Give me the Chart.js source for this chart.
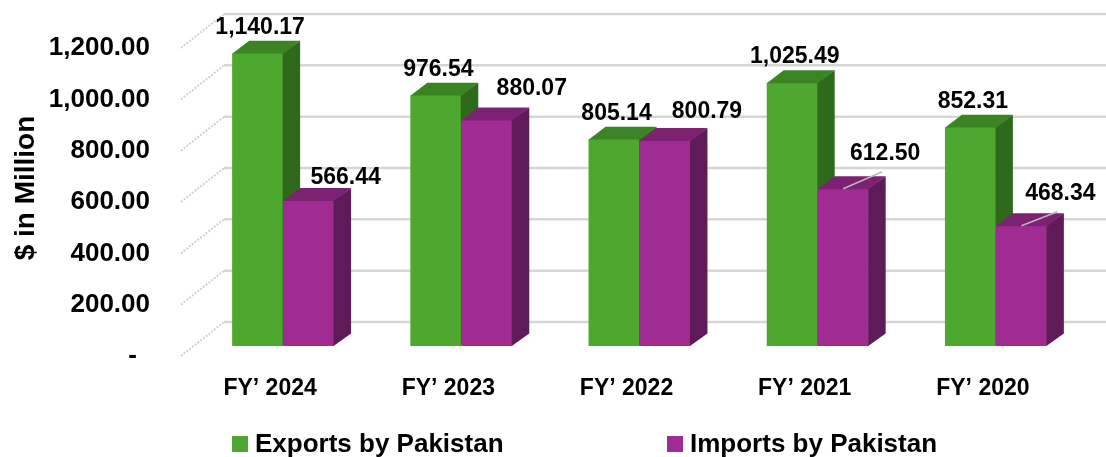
<!DOCTYPE html>
<html>
<head>
<meta charset="utf-8">
<script src="https://cdn.jsdelivr.net/npm/chart.js@4.4.1/dist/chart.umd.min.js"></script>
<style>
  html, body { margin: 0; padding: 0; background: #ffffff; }
  #wrap { width: 1106px; height: 457px; }
</style>
</head>
<body>
<div id="wrap"><canvas id="tradeChart" width="1106" height="457"></canvas></div>
<script>
// Données du graphique
const categories = ['FY\u2019 2024', 'FY\u2019 2023', 'FY\u2019 2022', 'FY\u2019 2021', 'FY\u2019 2020'];
const exportsByPakistan = [1140.17, 976.54, 805.14, 1025.49, 852.31];
const importsByPakistan = [566.44, 880.07, 800.79, 612.50, 468.34];
const yTickValues = [0, 200, 400, 600, 800, 1000, 1200];
const seriesNames = ['Exports by Pakistan', 'Imports by Pakistan'];
const axisTitle = '$ in Million';

// Couleurs
const COLORS = {
    green: { front: '#4ea72e', top: '#3b8323', side: '#2f6a1c' },
    purple: { front: '#a02b93', top: '#7d2173', side: '#5f1a58' },
    grid: '#d6d6d6',
    wall: '#d0d0d0',
    text: '#000000',
    leader: '#b8b8b8'
};
const FONT = '"Liberation Sans", Arial, sans-serif';

// Géométrie de l'effet 3D
const SHIFT_X = 13, SHIFT_Y = -10;   // face avant des barres par rapport au mur
const DEPTH_X = 17, DEPTH_Y = -12.5; // profondeur des barres
const WALL_X = 43, WALL_Y = -34;     // mur du fond

// Décalage des étiquettes des importations (placées à la main dans l'original)
const importLabelDx = [37, 45, 42, 42, 39];
const importLabelDy = [-24, -32, -30, -36, -33];
const importLeader = [false, false, false, true, true];

function fmt(v) {
    return v.toLocaleString('en-US', { minimumFractionDigits: 2, maximumFractionDigits: 2 });
}

function poly(ctx, pts, color) {
    ctx.beginPath();
    ctx.moveTo(pts[0][0], pts[0][1]);
    for (let k = 1; k < pts.length; k++) ctx.lineTo(pts[k][0], pts[k][1]);
    ctx.closePath();
    ctx.fillStyle = color;
    ctx.fill();
}

const shades = [COLORS.green, COLORS.purple];

const threeDPlugin = {
    id: 'threeDPlugin',
    beforeDatasetsDraw(chart) {
        const ctx = chart.ctx;
        const area = chart.chartArea;
        const yScale = chart.scales.y;

        // Quadrillage : mur du fond et mur de gauche
        yScale.ticks.forEach(t => {
            const py = yScale.getPixelForValue(t.value);
            ctx.save();
            ctx.strokeStyle = COLORS.grid;
            ctx.lineWidth = 2.5;
            ctx.beginPath();
            ctx.moveTo(area.left + WALL_X, py + WALL_Y);
            ctx.lineTo(chart.width, py + WALL_Y);
            ctx.stroke();

            ctx.strokeStyle = COLORS.wall;
            ctx.lineWidth = 2;
            ctx.setLineDash([2, 1.5]);
            ctx.beginPath();
            ctx.moveTo(area.left, py);
            ctx.lineTo(area.left + WALL_X, py + WALL_Y);
            ctx.stroke();
            ctx.restore();
        });

        // Barres : face avant, côté, dessus
        chart.data.datasets.forEach((ds, d) => {
            const meta = chart.getDatasetMeta(d);
            meta.data.forEach(bar => {
                const { x, y, base, width } = bar.getProps(['x', 'y', 'base', 'width'], true);
                const l = x - width / 2 + SHIFT_X;
                const r = x + width / 2 + SHIFT_X;
                const top = y + SHIFT_Y;
                const bot = base + SHIFT_Y;
                ctx.save();
                ctx.translate(SHIFT_X, SHIFT_Y);
                bar.draw(ctx);
                ctx.restore();
                poly(ctx, [[r - 0.5, top], [r + DEPTH_X, top + DEPTH_Y], [r + DEPTH_X, bot + DEPTH_Y], [r - 0.5, bot]], shades[d].side);
                poly(ctx, [[l, top + 0.5], [l + DEPTH_X, top + DEPTH_Y], [r + DEPTH_X, top + DEPTH_Y], [r, top + 0.5]], shades[d].top);
            });
        });

        // Étiquettes de valeurs
        ctx.save();
        ctx.font = 'bold 23px ' + FONT;
        ctx.fillStyle = COLORS.text;
        ctx.textAlign = 'center';
        ctx.textBaseline = 'middle';
        chart.data.datasets.forEach((ds, d) => {
            const meta = chart.getDatasetMeta(d);
            meta.data.forEach((bar, i) => {
                const bx = bar.x + SHIFT_X;
                const by = bar.y + SHIFT_Y;
                let lx, ly;
                if (d === 0) {
                    lx = bx + 2.5;
                    ly = by - 27;
                } else {
                    lx = bx + importLabelDx[i];
                    ly = by + importLabelDy[i];
                    if (importLeader[i]) {
                        ctx.strokeStyle = COLORS.leader;
                        ctx.lineWidth = 1.5;
                        ctx.beginPath();
                        ctx.moveTo(bx, by);
                        ctx.lineTo(lx - 3, ly + 19);
                        ctx.stroke();
                    }
                }
                ctx.fillText(fmt(ds.data[i]), lx, ly + 1);
            });
        });
        ctx.restore();
        return false;
    },
    afterDraw(chart) {
        const ctx = chart.ctx;
        // Titre de l'axe vertical
        ctx.save();
        ctx.translate(25, 188);
        ctx.rotate(-Math.PI / 2);
        ctx.font = 'bold 28px ' + FONT;
        ctx.fillStyle = COLORS.text;
        ctx.textAlign = 'center';
        ctx.textBaseline = 'middle';
        ctx.fillText(axisTitle, 0, 1);
        ctx.restore();

        // Légende
        const legendX = [232, 667];
        ctx.save();
        ctx.font = 'bold 26px ' + FONT;
        ctx.textBaseline = 'middle';
        ctx.textAlign = 'left';
        chart.data.datasets.forEach((ds, d) => {
            ctx.fillStyle = ds.backgroundColor;
            ctx.fillRect(legendX[d], 436, 16, 16);
            ctx.fillStyle = COLORS.text;
            ctx.fillText(ds.label, legendX[d] + 23, 445);
        });
        ctx.restore();
    }
};

function initChart() {
    const ctx = document.getElementById('tradeChart').getContext('2d');
    return new Chart(ctx, {
        type: 'bar',
        data: {
            labels: categories,
            datasets: [{
                label: seriesNames[0],
                data: exportsByPakistan,
                backgroundColor: COLORS.green.front,
                borderWidth: 0
            }, {
                label: seriesNames[1],
                data: importsByPakistan,
                backgroundColor: COLORS.purple.front,
                borderWidth: 0
            }]
        },
        options: {
            responsive: false,
            animation: false,
            categoryPercentage: 0.572,
            barPercentage: 1.0,
            layout: { padding: { left: 0, right: 34, top: 48, bottom: 61 } },
            plugins: {
                legend: { display: false },
                tooltip: { enabled: false }
            },
            scales: {
                x: {
                    grid: { display: false, drawTicks: false },
                    border: { display: false },
                    ticks: {
                        padding: 19,
                        color: COLORS.text,
                        font: { family: FONT, size: 23, weight: 'bold' }
                    },
                    afterFit(scale) { scale.height = 40; }
                },
                y: {
                    min: 0,
                    max: 1200,
                    grid: { display: false, drawTicks: false },
                    border: { display: false },
                    afterBuildTicks(scale) {
                        scale.ticks = yTickValues.map(v => ({ value: v }));
                    },
                    ticks: {
                        padding: 31,
                        color: COLORS.text,
                        font: { family: FONT, size: 26, weight: 'bold' },
                        callback: v => (v === 0 ? '-\u2002' : fmt(v))
                    },
                    afterFit(scale) { scale.width = 181; }
                }
            }
        },
        plugins: [threeDPlugin]
    });
}

document.addEventListener('DOMContentLoaded', initChart);
</script>
</body>
</html>
